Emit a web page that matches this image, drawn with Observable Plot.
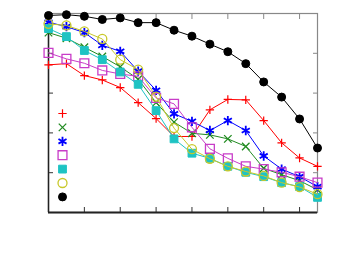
<!DOCTYPE html>
<html><head><meta charset="utf-8">
<script src="https://cdn.jsdelivr.net/npm/d3@7"></script>
<script src="https://cdn.jsdelivr.net/npm/@observablehq/plot@0.6"></script>
<style>body{margin:0;background:#fff}#chart svg{display:block}</style>
</head><body><div id="chart"></div>
<script>
const xs = [0,1,2,3,4,5,6,7,8,9,10,11,12,13,14,15];
const seriesRed     = [3.71,3.74,3.44,3.33,3.14,2.76,2.36,1.91,1.91,2.58,2.84,2.83,2.31,1.75,1.37,1.16];
const seriesGreen   = [4.52,4.38,4.15,3.92,3.66,3.35,2.76,2.27,1.99,1.95,1.85,1.66,1.11,0.95,0.80,0.57];
const seriesBlue    = [4.78,4.67,4.52,4.20,4.05,3.55,3.07,2.48,2.29,2.06,2.31,2.06,1.42,1.09,0.90,0.65];
const seriesMagenta = [4.01,3.86,3.75,3.57,3.48,3.42,2.88,2.73,2.14,1.60,1.36,1.16,1.09,1.01,0.90,0.75];
const seriesCyan    = [4.62,4.42,4.07,3.84,3.53,3.22,2.56,1.85,1.49,1.36,1.16,1.01,0.90,0.75,0.65,0.38];
const seriesYellow  = [4.74,4.70,4.55,4.36,3.84,3.59,2.91,2.12,1.59,1.35,1.16,1.03,0.92,0.75,0.64,0.46];
const seriesBlack   = [4.95,4.97,4.93,4.85,4.89,4.77,4.77,4.58,4.43,4.23,4.04,3.74,3.28,2.90,2.35,1.62];
const xTicks = [0,2,4,6,8,10,12,14];
const yTicks = [0,1,2,3,4,5];

const styles = [
  {vals: seriesRed,     color: "#ff0000", symbol: "plus",     r: 2.8, filled: false, sw: 1.2},
  {vals: seriesGreen,   color: "#228b22", symbol: "times",    r: 3.5, filled: false, sw: 1.3},
  {vals: seriesBlue,    color: "#0000ff", symbol: "asterisk", r: 4.4, filled: false, sw: 1.8},
  {vals: seriesMagenta, color: "#c83cc8", symbol: "square",   r: 5,   filled: false, sw: 1.3},
  {vals: seriesCyan,    color: "#1ec3c3", symbol: "square",   r: 4.4, filled: true,  sw: 1},
  {vals: seriesYellow,  color: "#c8c82a", symbol: "circle",   r: 4.5, filled: false, sw: 1.3},
  {vals: seriesBlack,   color: "#000000", symbol: "circle",   r: 4,   filled: true,  sw: 1}
];

const marks = [];
styles.forEach((s, k) => {
  const rows = xs.map((x, i) => ({x, y: s.vals[i]}));
  marks.push(Plot.line(rows, {x: "x", y: "y", stroke: s.color, strokeWidth: 1}));
  marks.push(Plot.dot(rows, {x: "x", y: "y", symbol: () => s.symbol, r: s.r,
    stroke: s.color, fill: s.filled ? s.color : "none", strokeWidth: s.sw}));
  marks.push(Plot.dot([k], {frameAnchor: "top-left", dx: 14, dy: 100 + k * 13.9,
    symbol: () => s.symbol, r: s.r, stroke: s.color, fill: s.filled ? s.color : "none", strokeWidth: s.sw}));
});

const chart = Plot.plot({
  width: 338, height: 254,
  marginLeft: 48, marginRight: 21, marginTop: 13, marginBottom: 42,
  x: {domain: [0, 15]},
  y: {domain: [0, 5]},
  style: {background: "#fff"},
  marks: [
    Plot.frame({stroke: "#888", strokeWidth: 1.2}),
    Plot.axisX(xTicks, {anchor: "bottom", tickSize: -5, tickFormat: () => "", label: null, stroke: "#333"}),
    Plot.axisX(xTicks, {anchor: "top", tickSize: -5, tickFormat: () => "", label: null, stroke: "#888"}),
    Plot.axisY(yTicks, {anchor: "left", tickSize: -5, tickFormat: () => "", label: null, stroke: "#333"}),
    Plot.axisY(yTicks, {anchor: "right", tickSize: -5, tickFormat: () => "", label: null, stroke: "#888"}),
    Plot.ruleY([0], {stroke: "#222", strokeWidth: 2}),
    Plot.ruleX([0], {stroke: "#222", strokeWidth: 1.5}),
    ...marks
  ]
});
document.getElementById("chart").append(chart);
</script>
</body></html>
